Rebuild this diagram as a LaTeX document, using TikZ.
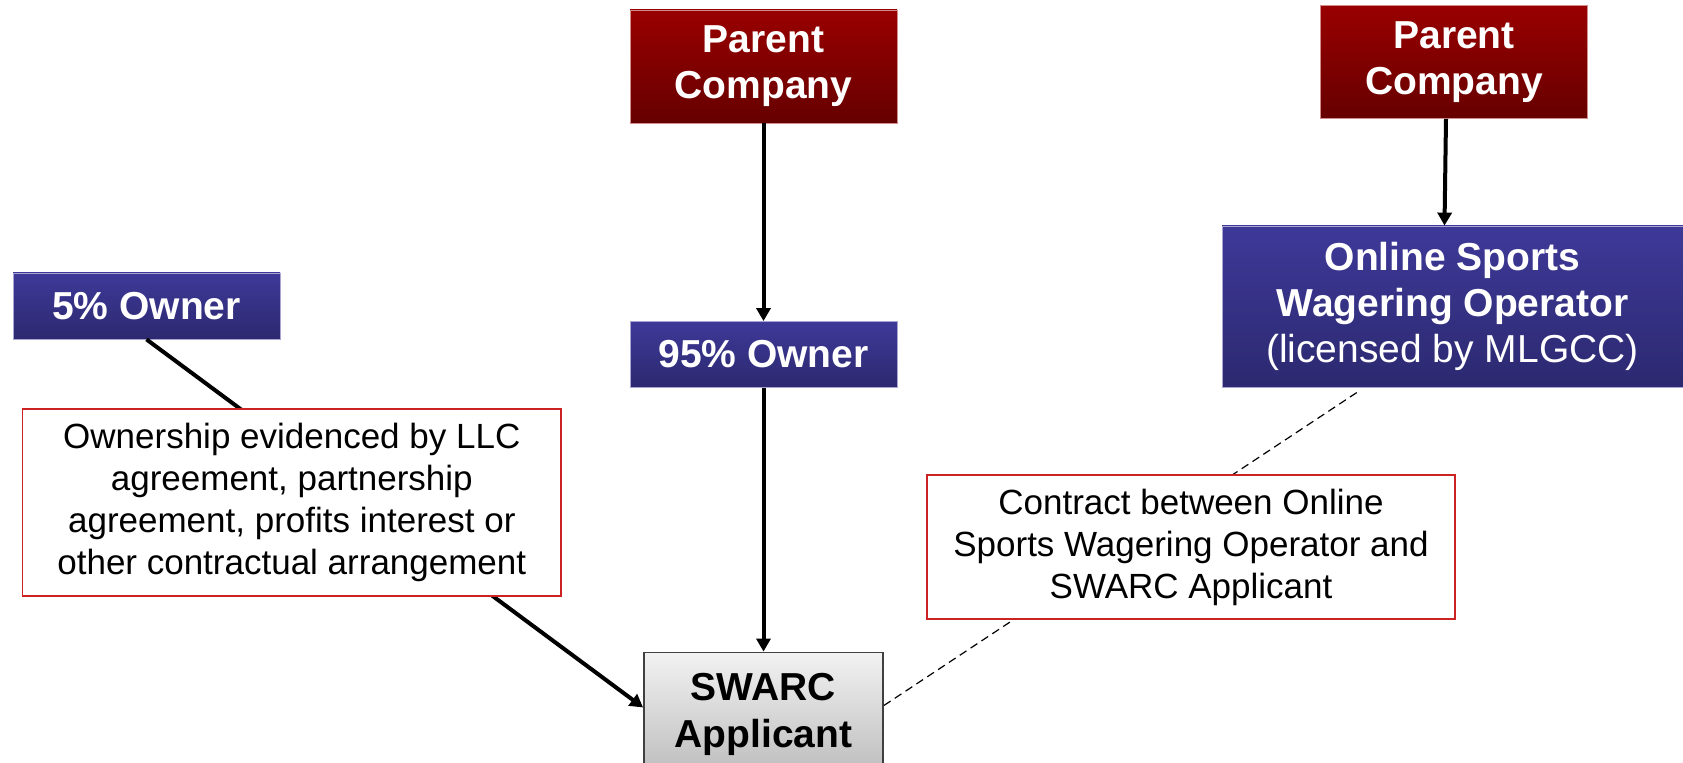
\documentclass[tikz,border=0pt]{standalone}
\usepackage{fontspec}
\setmainfont{Liberation Sans}
\usetikzlibrary{arrows.meta}
\definecolor{parenttop}{RGB}{153,0,0}
\definecolor{parentbottom}{RGB}{102,0,0}
\definecolor{ownertop}{RGB}{62,57,152}
\definecolor{ownerbottom}{RGB}{44,41,112}
\definecolor{swarctop}{RGB}{242,242,242}
\definecolor{swarcbottom}{RGB}{188,188,188}
\definecolor{notered}{RGB}{204,34,34}
\tikzstyle{parent} = [rectangle, minimum width=133.5pt, minimum height=56.5pt, text centered, align=center, draw=parenttop!45!white, line width=0.4pt, top color=parenttop, bottom color=parentbottom, text=white, font=\fontsize{19.5}{23}\selectfont\bfseries]
\tikzstyle{owner} = [rectangle, minimum width=133.5pt, minimum height=33pt, text centered, align=center, draw=ownertop!45!white, line width=0.4pt, top color=ownertop, bottom color=ownerbottom, text=white, font=\fontsize{19.5}{23}\selectfont\bfseries]
\tikzstyle{applicant} = [rectangle, minimum width=119.5pt, minimum height=62pt, text centered, align=center, draw=black!75, line width=0.9pt, top color=swarctop, bottom color=swarcbottom, font=\fontsize{19.5}{23.5}\selectfont\bfseries]
\tikzstyle{note} = [rectangle, inner sep=0pt, text centered, align=center, draw=notered, line width=0.8pt, fill=white, font=\fontsize{17.5}{21}\selectfont]
\tikzstyle{arrow} = [line width=2pt, -{Triangle[length=6.5pt,width=7pt]}]
\tikzstyle{link} = [line width=0.6pt, dash pattern=on 4pt off 2.5pt]

\begin{document}
\begin{tikzpicture}
			[node distance=144pt]
			\useasboundingbox (0,0) rectangle (841.5pt,-381.5pt);
			\node (parentA) [parent] at (381.75pt,-33.25pt) {Parent\\Company};
			\node (ownerA) [owner,below of = parentA] {95\% Owner};
			\node (swarc) [applicant,below of = ownerA,yshift = -36pt] {SWARC\\Applicant};
			\node (ownerB) [owner] at (73.25pt,-153pt) {5\% Owner};
			\node (parentB) [parent,right of = parentA,xshift = 201.25pt,yshift = 2.25pt] {Parent\\Company};
			\node (operator) [owner,minimum width=230.5pt,minimum height=80.5pt] at (726.25pt,-153.25pt) {Online Sports\\Wagering Operator\\\textmd{(licensed by MLGCC)}};
			\coordinate (opLink) at ([xshift=-47.75pt,yshift=-2.5pt]operator.south);
			% ownership lines
			\draw [arrow] (parentA) -- (ownerA);
			\draw [arrow] (ownerA) -- (swarc);
			\draw [arrow] ([xshift=-4pt]parentB.south) -- ([xshift=-4pt]operator.north);
			\draw [arrow] (ownerB.south) -- ([yshift=3.5pt]swarc.west);
			\draw [link] ([yshift=4.5pt]swarc.east) -- (opLink);
			% notes on top of the lines
			\node (noteA) [note,minimum width=269.25pt,minimum height=93.5pt] at (145.9pt,-251.25pt) {Ownership evidenced by LLC\\agreement, partnership\\agreement, profits interest or\\other contractual arrangement};
			\node (noteB) [note,minimum width=264pt,minimum height=72pt] at (595.5pt,-273.5pt) {Contract between Online\\Sports Wagering Operator and\\SWARC Applicant};
		\end{tikzpicture}
\end{document}
